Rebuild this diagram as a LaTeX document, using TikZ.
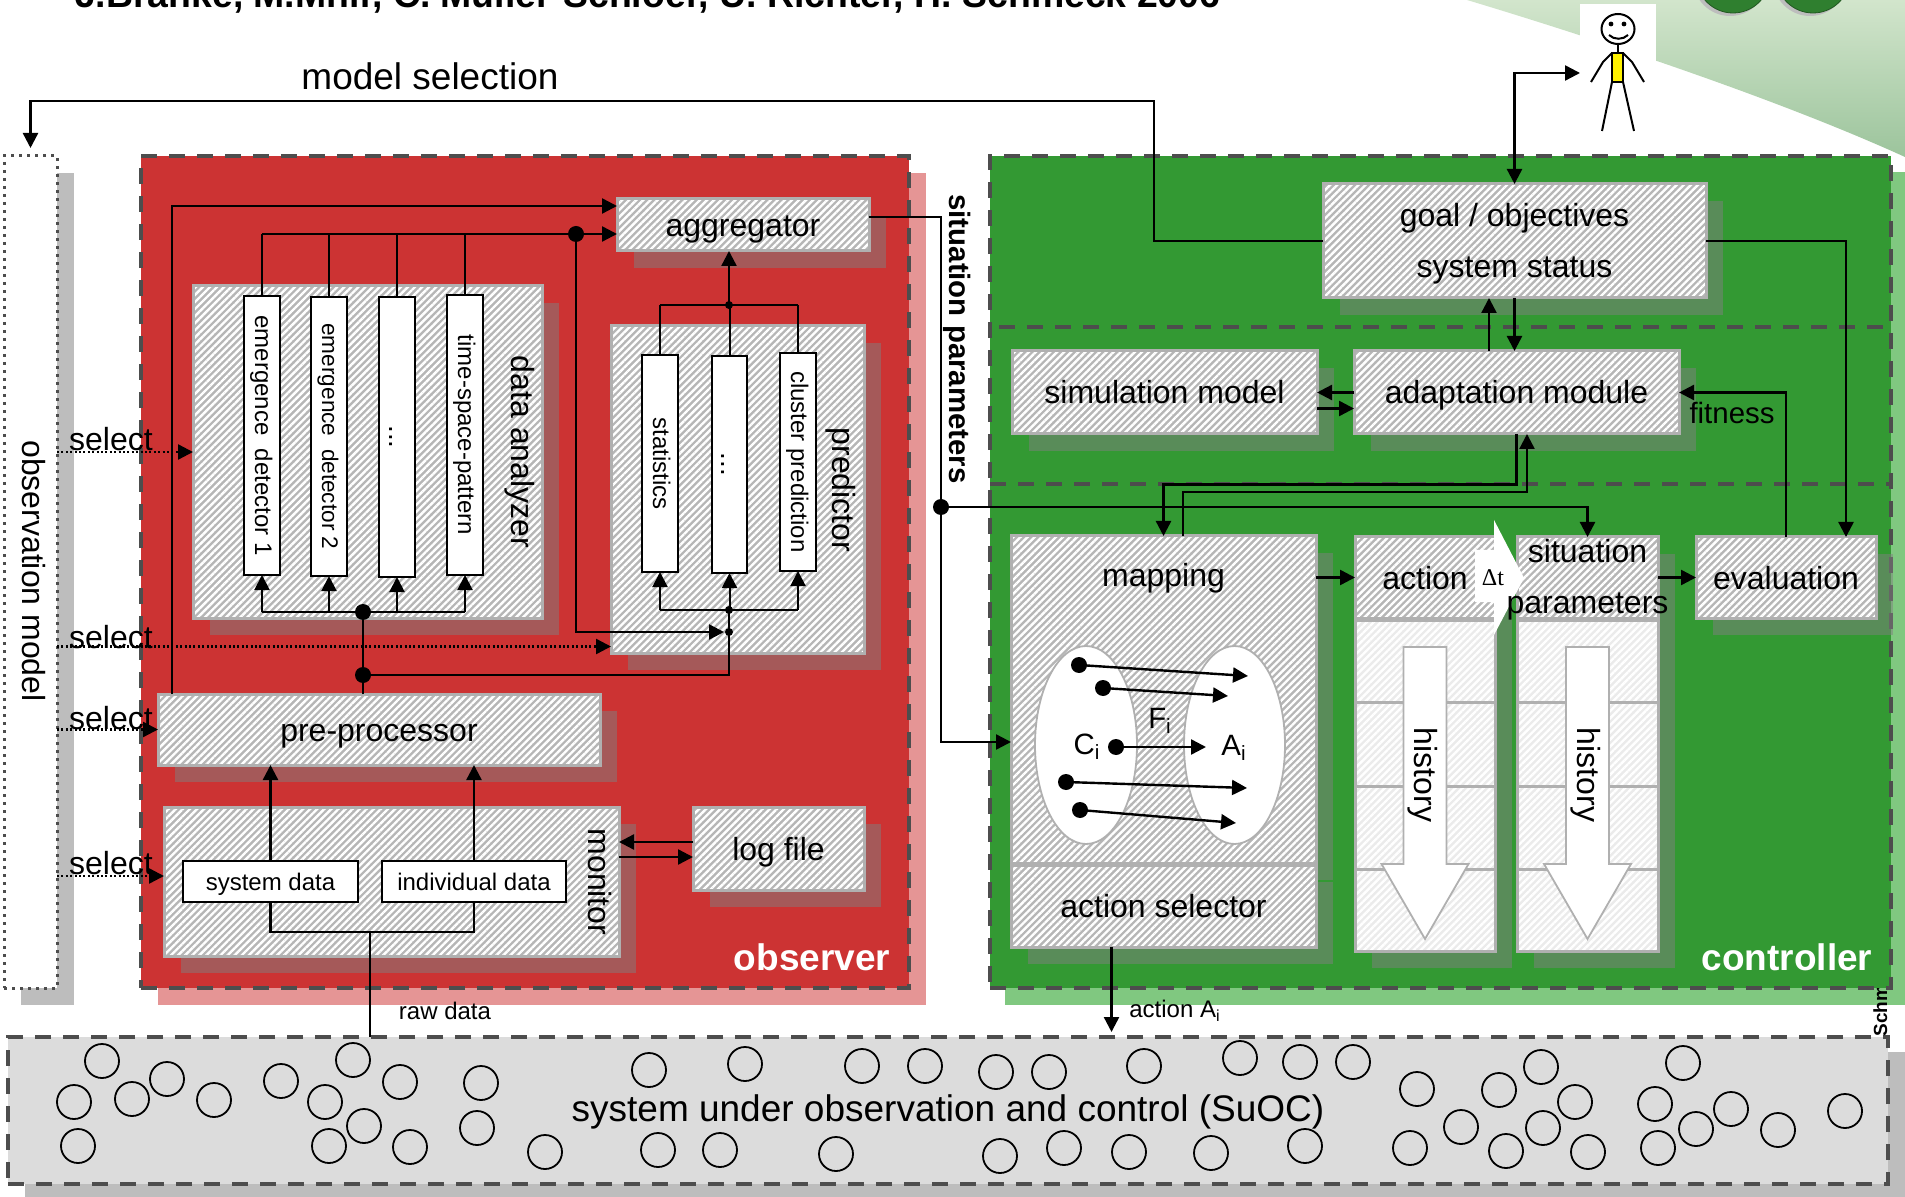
\documentclass[tikz,border=0pt]{standalone}
\usepackage{fontspec}
\setmainfont{Liberation Sans}
\newfontfamily\deltafont{Liberation Serif}
\usetikzlibrary{arrows.meta,calc,patterns.meta,shadows,shapes.geometric}
\definecolor{dashgrey}{HTML}{4D4D4D}
\definecolor{boxgrey}{HTML}{B0B0B0}
\definecolor{hatchgrey}{HTML}{B6B6B6}
\definecolor{histgrey}{HTML}{EBEBEB}
\definecolor{observerred}{HTML}{CC3333}
\definecolor{observerpink}{HTML}{E59595}
\definecolor{controllergreen}{HTML}{339933}
\definecolor{controllerlight}{HTML}{80C880}
\definecolor{suocgrey}{HTML}{DCDCDC}
\definecolor{shadegrey}{HTML}{BDBDBD}
\definecolor{swooshtop}{HTML}{D2E5CC}
\definecolor{swooshbot}{HTML}{9CC49C}
\definecolor{ballgreen}{HTML}{2F7F2F}

\begin{document}
\begin{tikzpicture}[x=.5pt,y=-.5pt,
  boxsize/.style 2 args={minimum width=(#1-2)*.5pt,minimum height=(#2-2)*.5pt,inner sep=0pt,outer sep=0pt},
  bigtext/.style={font=\fontsize{18.5}{22}\selectfont},
  boxtext/.style={font=\fontsize{16}{25.5}\selectfont,align=center},
  smalltext/.style={font=\fontsize{12}{14}\selectfont},
  panel/.style={draw=dashgrey,line width=2pt,dash pattern=on 8pt off 6pt},
  boxshadow/.style={drop shadow={shadow xshift=8.5pt,shadow yshift=-8.5pt}},
  hatchfill/.style={preaction={fill=hatchgrey},pattern={Lines[angle=45,distance=2.5pt,line width=1.2pt]},pattern color=white,draw=boxgrey,line width=1.5pt,boxtext,text height=13.5pt,text depth=2pt},
  hatchbox/.style={boxshadow,hatchfill},
  histbox/.style={preaction={fill=histgrey},pattern={Lines[angle=45,distance=2.5pt,line width=1.2pt]},pattern color=white,draw=boxgrey,line width=1.5pt},
  whitebar/.style={draw,fill=white,line width=1.2pt,rotate=-90,smalltext,text height=9.5pt,text depth=2.5pt},
  whitebox/.style={draw,fill=white,line width=1.2pt,smalltext,text height=9pt,text depth=.5pt},
  wire/.style={line width=1.2pt},
  thinwire/.style={line width=1pt},
  arrow/.style={wire,-{Triangle[length=7.5pt,width=7.5pt]}},
  thinarrow/.style={thinwire,-{Triangle[length=7.5pt,width=7.5pt]}},
  biarrow/.style={wire,{Triangle[length=7.5pt,width=7.5pt]}-{Triangle[length=7.5pt,width=7.5pt]}},
  selectline/.style={line width=1.2pt,dash pattern=on 1pt off 1.2pt,-{Triangle[length=7.5pt,width=7.5pt]}},
  junction/.style={circle,fill=black,minimum size=8pt,inner sep=0pt},
  smalljunction/.style={circle,fill=black,minimum size=4pt,inner sep=0pt},
  agent/.style={circle,draw,line width=.9pt,minimum size=17pt,inner sep=0pt},
  setnode/.style={ellipse,draw=boxgrey,fill=white,line width=.9pt}]

\useasboundingbox (0,0) rectangle (1905,1197);
\clip (0,0) rectangle (1905,1197);

\shade[top color=swooshtop,bottom color=swooshbot] (1467,0) .. controls (1600,40) and (1780,100) .. (1905,157) -- (1905,0) -- cycle;
\foreach \bx in {1733,1813} {
  \fill[shadegrey] (\bx-3,-21) circle[radius=18.5pt];
  \draw[fill=ballgreen,draw=ballgreen!70!black] (\bx,-24) circle[radius=18.5pt];
}

\node[fill=white,boxsize={78}{140}] (person) at (1618,73) {};
\draw[wire,line width=1pt] (1618,29) ellipse[x radius=8.25pt,y radius=7.5pt];
\fill (1611,24) circle[radius=1.2pt] (1624,24) circle[radius=1.2pt];
\draw[wire,line width=1pt] (1609,35) .. controls (1614,40) and (1623,40) .. (1628,35);
\draw[line width=1pt] (1618,44) -- (1618,53);
\draw[line width=1pt,fill=yellow] (1612,53) rectangle (1623,82);
\draw[line width=1pt] (1612,53) -- (1603,62) -- (1591,82) (1623,53) -- (1632,62) -- (1644,82);
\draw[line width=1pt] (1612,82) -- (1602,131) (1623,82) -- (1634,131);

\node[anchor=base west,font=\bfseries\fontsize{18.7}{22}\selectfont] (title) at (68,8) {J.Branke, M.Mnif, C. Müller-Schloer, U. Richter, H. Schmeck 2006};

\node[bigtext] (modelsel) at (430,76) {model selection};

\node[draw=dashgrey,fill=white,line width=1.5pt,dash pattern=on 1.5pt off 2.5pt,boxsize={55}{834},drop shadow={shadow xshift=8.5pt,shadow yshift=-8.5pt,fill=shadegrey,opacity=1}] (obsmodel) at (30.5,572) {};
\node[boxtext,rotate=-90] (obslabel) at (34,571) {observation model};

\node[panel,fill=suocgrey,boxsize={1882}{149},drop shadow={shadow xshift=8.5pt,shadow yshift=-7.5pt,fill=shadegrey,opacity=1}] (suoc) at (948,1110.5) {};

\node[panel,fill=observerred,boxsize={770}{834},drop shadow={shadow xshift=8.5pt,shadow yshift=-8.5pt,fill=observerpink,opacity=1}] (observer) at (525,572) {};
\path[fill=controllerlight] (1005,172) rectangle (1905,1005);
\node[anchor=base west,rotate=90,inner sep=0pt,font=\bfseries\fontsize{9.5}{11}\selectfont] (schmeck) at (1887,1037) {Schmeck};
\node[panel,fill=controllergreen,boxsize={903}{834}] (controller) at (1440.5,572) {};
\draw[panel] (999,327) -- (controller.east |- 0,327);
\draw[panel] (controller.west |- 0,484) -- (controller.east |- 0,484);

\node[hatchbox,boxsize={254}{54}] (aggregator) at (743,225) {aggregator};
\node[hatchbox,boxsize={351}{334}] (analyzer) at (367.5,452) {};
\node[hatchbox,boxsize={255}{329}] (predictor) at (737.5,489.5) {};
\node[hatchbox,boxsize={444}{73}] (preproc) at (379,729.5) {pre-processor};
\node[hatchbox,boxsize={457}{151}] (monitor) at (391.5,881.5) {};
\node[hatchbox,boxsize={173}{85}] (logfile) at (778.5,848.5) {log file};

\node[whitebar,boxsize={281}{38}] (det1) at (262,435.5) {emergence~ detector 1};
\node[whitebar,boxsize={281}{38},font=\fontsize{11.3}{14}\selectfont] (det2) at (329,436.5) {emergence~ detector 2};
\node[whitebar,boxsize={282}{38},font=\fontsize{14}{14}\selectfont,text height=10.5pt] (det3) at (397,437) {...};
\node[whitebar,boxsize={282}{38}] (det4) at (465,435) {time-space-pattern};
\node[whitebar,boxsize={219}{38}] (stat) at (660,463.5) {statistics};
\node[whitebar,boxsize={219}{37},font=\fontsize{14}{14}\selectfont,text height=10.5pt] (pdots) at (729.5,464.5) {...};
\node[whitebar,boxsize={220}{38}] (clus) at (798,462) {cluster prediction};
\node[whitebox,boxsize={177}{43}] (sysdata) at (270.5,881.5) {system data};
\node[whitebox,boxsize={186}{43}] (inddata) at (474,881.5) {individual data};

\node[boxtext,rotate=-90] (analyzerlabel) at (520,452) {data analyzer};
\node[boxtext,rotate=-90] (predictorlabel) at (841,490) {predictor};
\node[boxtext,rotate=-90] (monitorlabel) at (600,882) {monitor};
\node[bigtext,white,font=\bfseries\fontsize{18.5}{22}\selectfont] (observerlabel) at (812,957) {observer};
\node[bigtext,white,font=\bfseries\fontsize{18.5}{22}\selectfont] (controllerlabel) at (1787,957) {controller};
\node[rotate=-90,font=\bfseries\fontsize{14.7}{17}\selectfont] (sitlabel) at (957,339) {situation parameters};
\node[boxtext] (sel1) at (111,439) {select};
\node[boxtext] (sel2) at (111,637) {select};
\node[boxtext] (sel3) at (111,718) {select};
\node[boxtext] (sel4) at (111,863) {select};
\node[smalltext] (rawlabel) at (445,1011) {raw data};
\node[smalltext] (actionlabel) at (1175,1011) {action A\textsubscript{i}};

\node[hatchbox,boxsize={385}{116}] (goal) at (1514.5,241) {};
\node[boxtext] (goallabel) at (1514.5,244) {goal / objectives\\system status};
\node[hatchbox,boxsize={307}{85}] (simmodel) at (1164.5,392.5) {simulation model};
\node[hatchbox,boxsize={327}{85}] (adaptation) at (1516.5,392.5) {adaptation module};
\node[hatchbox,boxsize={307}{329}] (mapping) at (1163.5,699.5) {};
\node[hatchbox,boxsize={307}{84}] (selector) at (1163.5,906) {action selector};
\node[boxshadow,boxsize={142}{416}] (actioncol) at (1425,744) {};
\node[boxshadow,boxsize={143}{416}] (sitcol) at (1587.5,744) {};
\node[histbox,boxsize={142}{333}] (actionhist) at (1425,785.5) {};
\node[histbox,boxsize={143}{333}] (sithist) at (1587.5,785.5) {};
\node[hatchfill,boxsize={142}{83}] (action) at (1425,577.5) {action};
\node[hatchfill,boxsize={143}{83}] (sitpar) at (1587.5,577.5) {};
\node[hatchbox,boxsize={182}{83}] (evaluation) at (1786,577.5) {evaluation};

\foreach \hx/\hb in {1425/actionhist,1587.5/sithist} {
  \foreach \hy in {702,786,869}
    \draw[draw=boxgrey,line width=1.5pt] (\hb.west |- 0,\hy) -- (\hb.east |- 0,\hy);
  \draw[draw=boxgrey,fill=white,line width=.9pt] (\hx-21.5,647) -- (\hx+21.5,647) -- (\hx+21.5,864) -- (\hx+43.5,864) -- (\hx,939) -- (\hx-43.5,864) -- (\hx-21.5,864) -- cycle;
  \node[boxtext,rotate=-90] (history\hb) at (\hx-2,775) {history};
}

\fill[white] (1494,520) -- (1524,578) -- (1494,635) -- (1494,602) -- (1475,602) -- (1475,550) -- (1494,550) -- cycle;
\node[smalltext,font=\deltafont\fontsize{12}{14}\selectfont] (deltat) at (1493,578) {Δt};
\node[boxtext] (sitparlabel) at (1587.5,580) {situation\\parameters};
\node[boxtext] (maplabel) at (1163.5,578) {mapping};
\node[boxtext,font=\fontsize{14.7}{17}\selectfont] (fitness) at (1732,413) {fitness};

\node[setnode,boxsize={104}{200}] (setC) at (1086,745) {};
\node[setnode,boxsize={103}{200}] (setA) at (1234.5,745) {};
\node[boxtext,font=\fontsize{14.7}{17}\selectfont] (labC) at (1087,747) {C\textsubscript{i}};
\node[boxtext,font=\fontsize{14.7}{17}\selectfont] (labF) at (1160,721) {F\textsubscript{i}};
\node[boxtext,font=\fontsize{14.7}{17}\selectfont] (labA) at (1234,748) {A\textsubscript{i}};
\foreach \sx/\sy/\tx/\ty [count=\i] in {1079/665/1248/676,1103/688/1228/696,1116/747/1206/747,1066/782/1247/788,1080/810/1236/823} {
  \node[junction] (src\i) at (\sx,\sy) {};
  \coordinate (dst\i) at (\tx,\ty);
  \draw[arrow] (src\i.center) -- (dst\i);
}

\foreach \cx/\cy [count=\i] in {102/1061,167/1079,74/1102,132/1099,214/1100,78/1146,281/1081,353/1060,400/1082,325/1102,481/1083,364/1126,477/1128,329/1146,410/1147,545/1152,649/1070,745/1064,862/1066,925/1066,658/1150,720/1150,836/1154,996/1072,1049/1072,1144/1066,1240/1058,1300/1062,1353/1062,1417/1089,1499/1090,1541/1067,1575/1102,1683/1063,1655/1104,1731/1109,1696/1129,1778/1130,1845/1111,1461/1127,1543/1128,1000/1156,1064/1148,1129/1152,1211/1153,1305/1146,1410/1148,1506/1151,1588/1152,1658/1148}
  \node[agent] (agent\i) at (\cx,\cy) {};
\node[bigtext] (suoclabel) at (948,1112) {system under observation and control (SuOC)};

\node[junction] (jagg) at (576,234) {};
\node[junction] (jana) at (363,612) {};
\node[junction] (jpre) at (363,675) {};
\node[junction] (jsit) at (941,507) {};
\node[smalljunction] (jtop) at (729,305) {};
\node[smalljunction] (jbus) at (729,610) {};
\node[smalljunction] (jsel) at (729,632) {};

\draw[arrow] ([xshift=-103.5pt]preproc.north) |- ([yshift=9.5pt]aggregator.west);
\draw[arrow] (det1.west |- jagg.center) -- ([yshift=-4.5pt]aggregator.west);
\foreach \d in {det1,det2,det3,det4} {
  \draw[thinwire] (\d.west) -- (\d.west |- jagg.center);
  \draw[thinarrow] (\d.east |- jana.center) -- (\d.east);
}
\draw[wire] (det1.east |- jana.center) -- (det4.east |- jana.center);
\draw[wire] (jana.center |- preproc.north) -- (jana.center);
\draw[wire] (jpre.center) -| (jbus.center);
\draw[wire] (jbus.center) -- (jsel.center);
\draw[arrow,shorten >=2.5pt] (jagg.center) |- (jsel.center);
\foreach \d in {stat,pdots,clus} {
  \draw[thinarrow] (\d.east |- jbus.center) -- (\d.east);
  \draw[thinwire] (\d.west) -- (\d.west |- jtop.center);
}
\draw[wire] (stat.east |- jbus.center) -- (clus.east |- jbus.center);
\draw[wire] (stat.west |- jtop.center) -- (clus.west |- jtop.center);
\draw[arrow] (jtop.center) -- (jtop.center |- aggregator.south);
\draw[wire] ([yshift=4pt]aggregator.east) -| (jsit.center);
\draw[arrow] (jsit.center) |- ([yshift=-21.25pt]mapping.west);
\draw[arrow] (jsit.center) -| (sitpar.north);

\draw[selectline] (obsmodel.east |- analyzer.west) -- (analyzer.west);
\draw[selectline] (obsmodel.east |- 0,646.5) -- ([yshift=-78.5pt]predictor.west);
\draw[selectline] (obsmodel.east |- preproc.west) -- (preproc.west);
\draw[selectline] (obsmodel.east |- 0,876) -- ([yshift=2.75pt]monitor.west);

\draw[arrow] (sysdata.north) -- (sysdata.north |- preproc.south);
\draw[arrow] (inddata.north) -- (inddata.north |- preproc.south);
\coordinate (rawbus) at (370,932);
\draw[wire] (sysdata.south) |- (rawbus) -| (inddata.south);
\draw[thinwire] (rawbus) -- (rawbus |- suoc.north);
\draw[arrow] ([yshift=3.25pt]logfile.west) -- ([yshift=19.75pt]monitor.east);
\draw[arrow] ([yshift=12.25pt]monitor.east) -- ([yshift=-4.25pt]logfile.west);

\coordinate (msel) at (1154,101);
\draw[arrow,shorten >=4pt] (goal.west) -| (msel) -| (obsmodel.north);
\draw[biarrow] (goal.north) |- (person.west);
\draw[arrow] ([xshift=-13.75pt]adaptation.north) -- ([xshift=-12.75pt]goal.south);
\draw[arrow] (goal.south) -- (goal.south |- adaptation.north);
\draw[arrow] (adaptation.west) -- (simmodel.east);
\draw[arrow] ([yshift=-8pt]simmodel.east) -- ([yshift=-8pt]adaptation.west);
\coordinate (mapdown) at (1300,484.5);
\coordinate (mapup) at (1300,492);
\draw[arrow] (adaptation.south) |- (mapdown) -| (mapping.north);
\draw[arrow] ([xshift=9.75pt]mapping.north) |- (mapup) -| ([xshift=5.25pt]adaptation.south);
\draw[arrow] (goal.east) -| ([xshift=30pt]evaluation.north);
\draw[arrow] (evaluation.north) |- (adaptation.east);
\draw[arrow] (mapping.east |- action.west) -- (action.west);
\draw[arrow] (sitpar.east) -- (evaluation.west);
\draw[arrow] ([xshift=-26pt]selector.south) -- ([xshift=-26pt,yshift=2.5pt]selector.south |- suoc.north);

\end{tikzpicture}
\end{document}
